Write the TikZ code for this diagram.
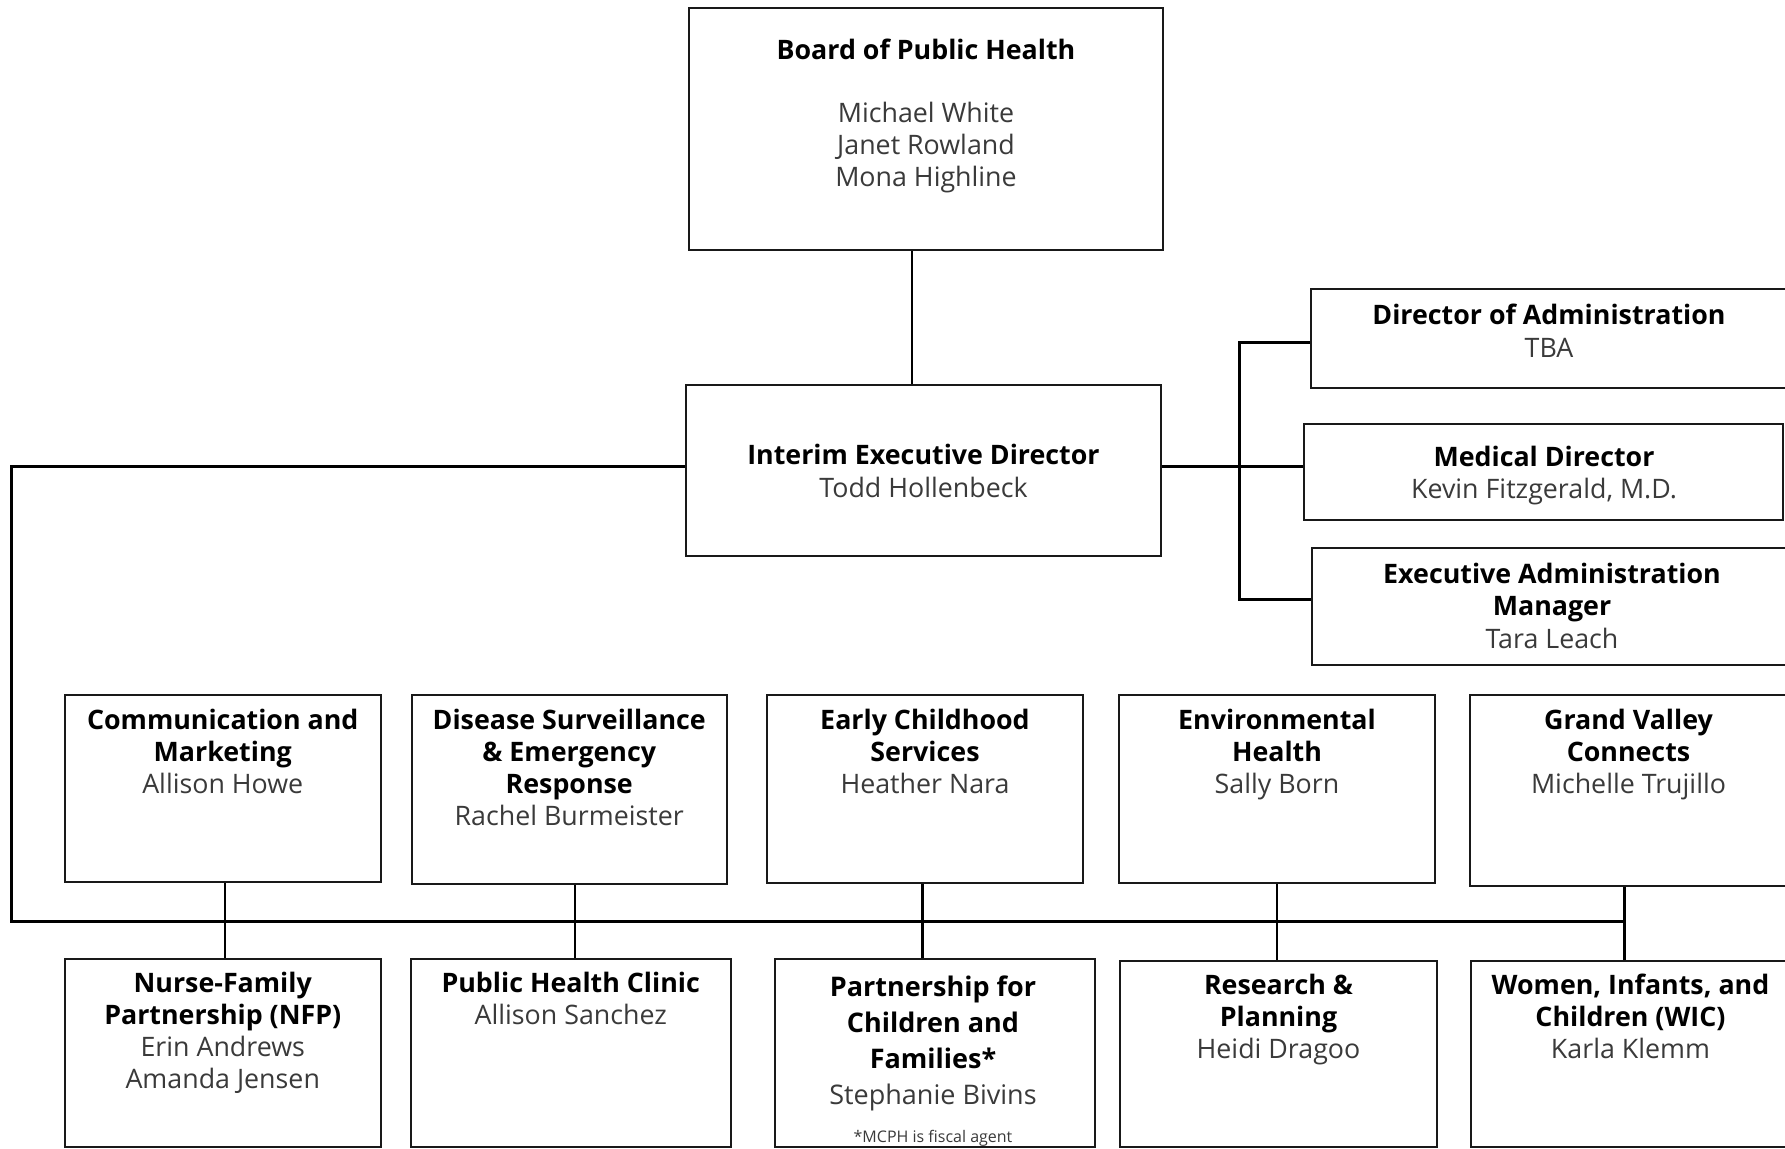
\documentclass[tikz,border=0pt]{standalone}
\usepackage{fontspec}
\setmainfont{Open Sans}
\definecolor{nmcol}{HTML}{3A3A3A}
\newcommand{\nm}[1]{{\color{nmcol}#1}}
\begin{document}
\begin{tikzpicture}[x=0.5pt,y=-0.5pt,
  box/.style={draw=black!90, line width=1pt, fill=white, inner sep=0pt},
  conn/.style={draw=black, line width=1.5pt},
  stub/.style={draw=black, line width=1.1pt},
  lbl/.style={align=center, inner sep=0pt, font=\fontsize{13.4}{16}\selectfont,
    execute at begin node=\strut, execute at end node=\strut},
  ]
\useasboundingbox (0,0) rectangle (1785,1148);
\clip (0,0) rectangle (1785,1148);
\fill[white] (0,0) rectangle (1785,1148);

% --- boxes ---
\node[box, minimum width=237pt, minimum height=121pt] (board) at (926,129) {};
\node[box, minimum width=237.5pt, minimum height=85.5pt] (interim) at (923.5,470.5) {};
\node[box, minimum width=239.5pt, minimum height=49.5pt] (diradm) at (1550.5,338.5) {};
\node[box, minimum width=239.5pt, minimum height=48pt] (meddir) at (1543.5,472) {};
\node[box, minimum width=240pt, minimum height=58.5pt] (execadm) at (1552,606.5) {};

\node[box, minimum width=158.25pt, minimum height=93.5pt] (comm) at (222.75,788.5) {};
\node[box, minimum width=157.75pt, minimum height=94.5pt] (disease) at (569.25,789.5) {};
\node[box, minimum width=158pt, minimum height=94pt] (early) at (925,789) {};
\node[box, minimum width=158pt, minimum height=94pt] (env) at (1277,789) {};
\node[box, minimum width=158.5pt, minimum height=95.5pt] (gv) at (1628.5,790.5) {};

\node[box, minimum width=158.25pt, minimum height=94pt] (nfp) at (222.75,1053) {};
\node[box, minimum width=160.25pt, minimum height=94pt] (phc) at (570.75,1053) {};
\node[box, minimum width=160pt, minimum height=94pt] (pcf) at (935,1053) {};
\node[box, minimum width=158.5pt, minimum height=93pt] (rp) at (1278.5,1054) {};
\node[box, minimum width=159.5pt, minimum height=93pt] (wic) at (1630.5,1054) {};

% --- texts ---
\node[lbl] (tboard) at (926,53) {\textbf{Board of Public Health}};
\node[lbl] (tboardnames) at (926,148.8) {\nm{Michael White}\\\nm{Janet Rowland}\\\nm{Mona Highline}};
\node[lbl, font=\fontsize{13.4}{16.5}\selectfont] (tinterim) at (923.5,475.5) {\textbf{Interim Executive Director}\\\nm{Todd Hollenbeck}};
\node[lbl, font=\fontsize{13.4}{16.5}\selectfont] (tdiradm) at (1549,335.5) {\textbf{Director of Administration}\\\nm{TBA}};
\node[lbl] (tmeddir) at (1544,477) {\textbf{Medical Director}\\\nm{Kevin Fitzgerald, M.D.}};
\node[lbl, font=\fontsize{13.4}{16.2}\selectfont] (texec) at (1552,610.5) {\textbf{Executive Administration}\\\textbf{Manager}\\\nm{Tara Leach}};

\node[lbl] (tcomm) at (222.75,756) {\textbf{Communication and}\\\textbf{Marketing}\\\nm{Allison Howe}};
\node[lbl] (tdisease) at (569.25,772) {\textbf{Disease Surveillance}\\\textbf{\& Emergency}\\\textbf{Response}\\\nm{Rachel Burmeister}};
\node[lbl] (tearly) at (925,756) {\textbf{Early Childhood}\\\textbf{Services}\\\nm{Heather Nara}};
\node[lbl] (tenv) at (1277,756) {\textbf{Environmental}\\\textbf{Health}\\\nm{Sally Born}};
\node[lbl] (tgv) at (1628.5,756) {\textbf{Grand Valley}\\\textbf{Connects}\\\nm{Michelle Trujillo}};

\node[lbl] (tnfp) at (222.75,1035) {\textbf{Nurse-Family}\\\textbf{Partnership (NFP)}\\\nm{Erin Andrews}\\\nm{Amanda Jensen}};
\node[lbl] (tphc) at (570.75,1003) {\textbf{Public Health Clinic}\\\nm{Allison Sanchez}};
\node[lbl, font=\fontsize{13.5}{18}\selectfont] (tpcf) at (933,1045.5) {\textbf{Partnership for}\\\textbf{Children and}\\\textbf{Families*}\\\nm{Stephanie Bivins}};
\node[lbl, font=\fontsize{8}{10}\selectfont] (tpcfnote) at (933,1138) {\nm{*MCPH is fiscal agent}};
\node[lbl] (trp) at (1278.5,1021) {\textbf{Research \&}\\\textbf{Planning}\\\nm{Heidi Dragoo}};
\node[lbl] (twic) at (1630.5,1021) {\textbf{Women, Infants, and}\\\textbf{Children (WIC)}\\\nm{Karla Klemm}};

% --- connectors ---
\coordinate (cboard) at (912,0);
\coordinate (rbx) at (1239,466.5);
\coordinate (lbx) at (11,466.5);
\coordinate (bus) at (11,921);
\coordinate (brtop) at (1239,342);
\coordinate (brbot) at (1239,599);
\coordinate (s1) at (225,0);
\coordinate (s2) at (575,0);
\coordinate (s3) at (922.5,0);
\coordinate (s4) at (1277,0);
\coordinate (s5) at (1624.5,0);

\draw[stub] (board.south -| cboard) -- (interim.north -| cboard);
\draw[conn] (interim.east |- rbx) -- (meddir.west |- rbx);
\draw[conn] (diradm.west |- brtop) -- (brtop) -- (brbot) -- (execadm.west |- brbot);
\draw[conn] (interim.west |- lbx) -- (lbx) -- (bus) -- (bus -| s5);
\draw[stub] (comm.south -| s1) -- (nfp.north -| s1);
\draw[stub] (disease.south -| s2) -- (phc.north -| s2);
\draw[stub] (early.south -| s3) -- (pcf.north -| s3);
\draw[stub] (env.south -| s4) -- (rp.north -| s4);
\draw[stub] (gv.south -| s5) -- (wic.north -| s5);
\end{tikzpicture}
\end{document}
